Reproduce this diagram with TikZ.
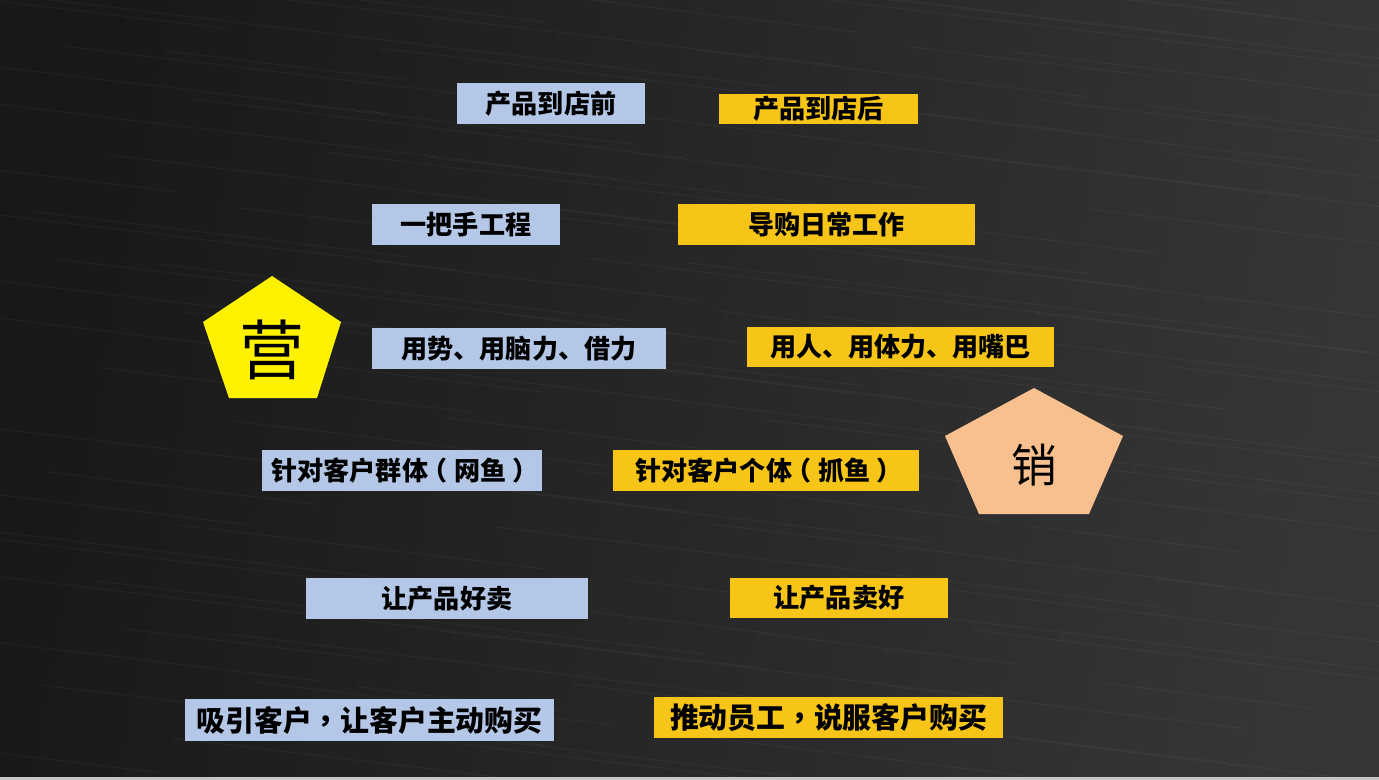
\documentclass[tikz,border=0pt]{standalone}
\usepackage{fontspec}
\usepackage{tikz}
\newfontfamily\cjk{Noto Sans CJK SC}
\newfontfamily\cjktc{Noto Sans CJK TC}
\definecolor{boxblue}{HTML}{B4C7E7}
\definecolor{boxgold}{HTML}{F6C518}
\definecolor{peach}{HTML}{F8C08E}
\definecolor{bgdark}{HTML}{181818}
\definecolor{bglight}{HTML}{363636}
% centred full-width punctuation
\newcommand{\cjkcomma}{{\cjktc ，}}
\newcommand{\openp}{\kern-0.25em（\kern0.25em}
\newcommand{\closep}{\kern0.25em）\kern-0.25em}
\tikzset{
  tag/.style={inner sep=0pt, font=\cjk\bfseries\fontsize{14.85pt}{16pt}\selectfont, text=black},
  bigtag/.style={font=\cjk\bfseries\fontsize{16.4pt}{18pt}\selectfont},
  bluetag/.style={tag, fill=boxblue},
  goldtag/.style={tag, fill=boxgold},
}

\begin{document}
\begin{tikzpicture}[x=0.02cm,y=-0.02cm]
        \useasboundingbox (0,0) rectangle (1379,780);
        % Draw the dark brushed background
        \begin{scope}
            \clip (0,0) rectangle (1379,780);
            \shade[left color=bgdark, right color=bglight, shading angle=80] (0,0) rectangle (1379,780);
            \foreach \i in {1,...,110}{
                \pgfmathsetmacro{\yy}{mod(\i*53,900)-60}
                \pgfmathsetmacro{\ll}{200+mod(\i*97,600)}
                \pgfmathsetmacro{\xx}{mod(\i*131,1379)-200}
                \draw[white, opacity=0.05, line width=0.4pt] (\xx,\yy) -- ++(\ll,0.12*\ll);
            }
            \fill[gray!45] (0,777) rectangle (1379,780);
        \end{scope}

        % Draw the two pentagons
        \fill[yellow] (272,276) -- (341,322) -- (317,398) -- (229,398) -- (203,322) -- cycle;
        \node[font=\cjk\fontsize{37pt}{40pt}\selectfont] (ying) at (272,350) {营};
        \fill[peach] (1034,388) -- (1123,436) -- (1089,514) -- (979,514) -- (945,436) -- cycle;
        \node[font=\cjk\fontsize{26pt}{28pt}\selectfont] (xiao) at (1034,465) {销};

        % Draw the left column (before the store)
        \node[bluetag, minimum width=3.76cm, minimum height=0.82cm] (before) at (551,103.5) {产品到店前};
        \node[bluetag, minimum width=3.76cm, minimum height=0.82cm] (boss) at (466,224.5) {一把手工程};
        \node[bluetag, minimum width=5.88cm, minimum height=0.82cm] (brain) at (519,348.5) {用势、用脑力、借力};
        \node[bluetag, minimum width=5.60cm, minimum height=0.82cm] (group) at (402,470.5) {针对客户群体\openp 网鱼\closep};
        \node[bluetag, minimum width=5.64cm, minimum height=0.82cm] (easy) at (447,598.5) {让产品好卖};
        \node[bluetag, bigtag, minimum width=7.38cm, minimum height=0.84cm] (attract) at (369.5,720) {吸引客户\cjkcomma 让客户主动购买};

        % Draw the right column (after the store)
        \node[goldtag, minimum width=3.98cm, minimum height=0.60cm] (after) at (818.5,109) {产品到店后};
        \node[goldtag, minimum width=5.94cm, minimum height=0.82cm] (daily) at (826.5,224.5) {导购日常工作};
        \node[goldtag, minimum width=6.14cm, minimum height=0.80cm] (body) at (900.5,347) {用人、用体力、用嘴巴};
        \node[goldtag, minimum width=6.12cm, minimum height=0.82cm] (single) at (766,470.5) {针对客户个体\openp 抓鱼\closep};
        \node[goldtag, minimum width=4.36cm, minimum height=0.80cm] (well) at (839,598) {让产品卖好};
        \node[goldtag, bigtag, minimum width=6.98cm, minimum height=0.82cm] (push) at (828.5,717.5) {推动员工\cjkcomma 说服客户购买};
\end{tikzpicture}
\end{document}
